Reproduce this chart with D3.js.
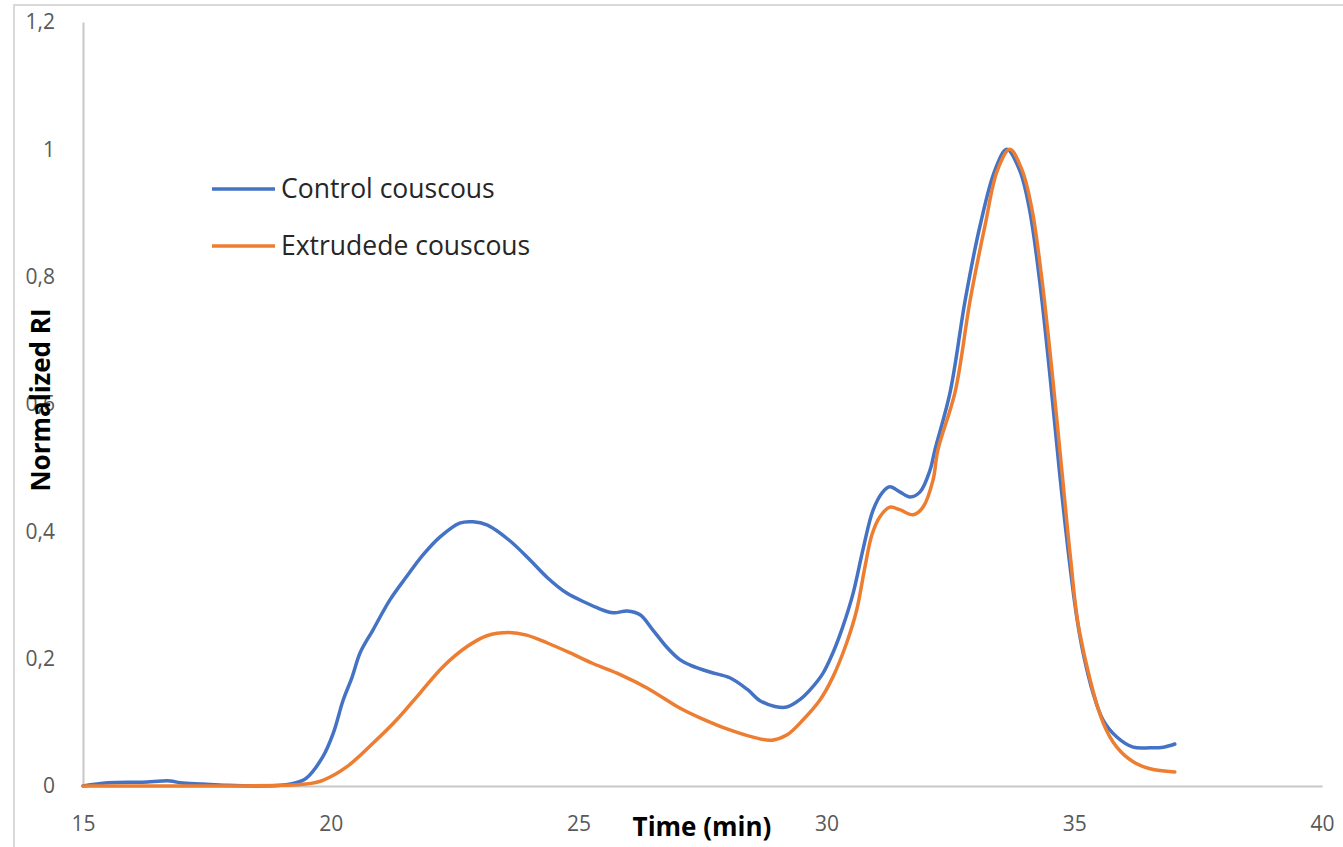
<!DOCTYPE html>
<html>
<head>
<meta charset="utf-8">
<script src="https://cdn.jsdelivr.net/npm/d3@7"></script>
<style>
  body { margin: 0; background: #fff; }
  svg { display: block; font-family: "Open Sans", sans-serif; }
</style>
</head>
<body>
<svg id="chart"></svg>
<script>
// series: [time (min), normalized RI]
const controlTime = [15, 15.5, 16.2, 16.76, 16.96, 17.42, 17.9, 18.5, 19.0, 19.24, 19.5, 19.84, 20.05, 20.25, 20.43, 20.59, 20.85, 21.19, 21.53, 21.86, 22.2, 22.6, 22.87, 23.15, 23.6, 24.02, 24.36, 24.76, 25.17, 25.37, 25.7, 25.98, 26.24, 26.5, 26.78, 27.05, 27.25, 27.65, 28.05, 28.4, 28.66, 28.96, 29.2, 29.47, 29.67, 29.93, 30.13, 30.33, 30.54, 30.74, 30.94, 31.14, 31.28, 31.48, 31.69, 31.89, 32.09, 32.19, 32.5, 32.8, 33.1, 33.4, 33.64, 33.9, 34.1, 34.3, 34.5, 34.7, 34.9, 35.06, 35.18, 35.38, 35.58, 35.86, 36.19, 36.53, 36.8, 37.03];
const controlRI = [0, 0.005, 0.006, 0.008, 0.005, 0.003, 0.001, 0, 0.001, 0.004, 0.012, 0.046, 0.083, 0.135, 0.171, 0.209, 0.245, 0.292, 0.329, 0.363, 0.391, 0.413, 0.415, 0.41, 0.386, 0.355, 0.328, 0.303, 0.287, 0.28, 0.272, 0.275, 0.269, 0.245, 0.218, 0.198, 0.19, 0.179, 0.17, 0.152, 0.134, 0.125, 0.124, 0.136, 0.151, 0.177, 0.209, 0.25, 0.303, 0.372, 0.433, 0.462, 0.47, 0.462, 0.454, 0.462, 0.496, 0.528, 0.62, 0.763, 0.88, 0.967, 1.0, 0.967, 0.905, 0.795, 0.653, 0.496, 0.355, 0.261, 0.209, 0.146, 0.104, 0.077, 0.061, 0.06, 0.061, 0.066];

const extrudedTime = [15, 16, 17, 18, 19, 19.5, 19.84, 20.32, 20.85, 21.33, 21.8, 22.26, 22.75, 23.15, 23.6, 23.95, 24.36, 24.83, 25.3, 25.84, 26.38, 27.05, 27.45, 28.05, 28.66, 28.9, 29.2, 29.53, 29.87, 30.13, 30.41, 30.61, 30.78, 30.92, 31.08, 31.28, 31.48, 31.75, 31.95, 32.15, 32.25, 32.6, 32.9, 33.2, 33.45, 33.7, 33.95, 34.15, 34.35, 34.55, 34.75, 34.93, 35.1, 35.58, 35.86, 36.19, 36.53, 37.03];
const extrudedRI = [0, 0, 0, 0, 0.001, 0.003, 0.009, 0.03, 0.067, 0.104, 0.146, 0.187, 0.219, 0.236, 0.241, 0.237, 0.225, 0.209, 0.192, 0.175, 0.154, 0.122, 0.107, 0.088, 0.074, 0.072, 0.08, 0.104, 0.135, 0.171, 0.225, 0.276, 0.345, 0.395, 0.423, 0.438, 0.434, 0.426, 0.438, 0.48, 0.528, 0.62, 0.763, 0.88, 0.967, 1.0, 0.967, 0.905, 0.795, 0.653, 0.496, 0.355, 0.245, 0.1, 0.061, 0.038, 0.027, 0.022];

const seriesNames = ['Control couscous', 'Extrudede couscous'];
const seriesColors = ['#4472C4', '#ED7D31'];
const xTicks = [15, 20, 25, 30, 35, 40];
const yTicks = [0, 0.2, 0.4, 0.6, 0.8, 1, 1.2];

const width = 1343, height = 847;
const margin = {top: 22, right: 21, bottom: 61, left: 83};

const svg = d3.select('#chart')
    .attr('width', width)
    .attr('height', height);

// outer frame of the chart area
svg.append('rect')
    .attr('x', 14).attr('y', 5)
    .attr('width', 1400).attr('height', 900)
    .attr('fill', 'none')
    .attr('stroke', '#d9d9d9')
    .attr('stroke-width', 2);

const x = d3.scaleLinear()
    .domain([15, 40])
    .range([margin.left, width - margin.right]);

const y = d3.scaleLinear()
    .domain([0, 1.2])
    .range([height - margin.bottom, margin.top]);

const fmt = d => String(d).replace('.', ',');

const xAxis = svg.append('g')
    .attr('transform', 'translate(0,' + y(0) + ')')
    .call(d3.axisBottom(x).tickValues(xTicks).tickSize(0).tickSizeOuter(0).tickPadding(30).tickFormat(fmt));

const yAxis = svg.append('g')
    .attr('transform', 'translate(' + x(15) + ',0)')
    .call(d3.axisLeft(y).tickValues(yTicks).tickSize(0).tickSizeOuter(0).tickPadding(28).tickFormat(fmt));

[xAxis, yAxis].forEach(a => {
    a.select('.domain').attr('stroke', '#c8c8c8').attr('stroke-width', 2);
    a.selectAll('text')
        .attr('fill', '#595959')
        .attr('font-size', '21px')
        .attr('font-family', '"Open Sans", sans-serif');
});

const line = d3.line()
    .x(d => x(d[0]))
    .y(d => y(d[1]))
    .curve(d3.curveCatmullRom.alpha(0.5));

const series = [
    d3.zip(controlTime, controlRI),
    d3.zip(extrudedTime, extrudedRI)
];

series.forEach((s, i) => {
    svg.append('path')
        .datum(s)
        .attr('fill', 'none')
        .attr('stroke', seriesColors[i])
        .attr('stroke-width', 3.5)
        .attr('stroke-linejoin', 'round')
        .attr('stroke-linecap', 'round')
        .attr('d', line);
});

// legend
const legend = svg.append('g');
seriesNames.forEach((name, i) => {
    const ly = 189 + i * 57;
    legend.append('line')
        .attr('x1', 212).attr('x2', 275)
        .attr('y1', ly).attr('y2', ly)
        .attr('stroke', seriesColors[i])
        .attr('stroke-width', 3.5);
    legend.append('text')
        .attr('x', 281).attr('y', ly)
        .attr('dy', '0.35em')
        .attr('font-size', '26.5px')
        .attr('fill', '#262626')
        .text(name);
});

// axis titles
svg.append('text')
    .attr('x', 702).attr('y', 836)
    .attr('text-anchor', 'middle')
    .attr('font-size', '26px')
    .attr('font-weight', 'bold')
    .attr('fill', '#000')
    .text('Time (min)');

svg.append('text')
    .attr('transform', 'translate(50,400) rotate(-90)')
    .attr('text-anchor', 'middle')
    .attr('font-size', '26px')
    .attr('font-weight', 'bold')
    .attr('fill', '#000')
    .text('Normalized RI');
</script>
</body>
</html>
